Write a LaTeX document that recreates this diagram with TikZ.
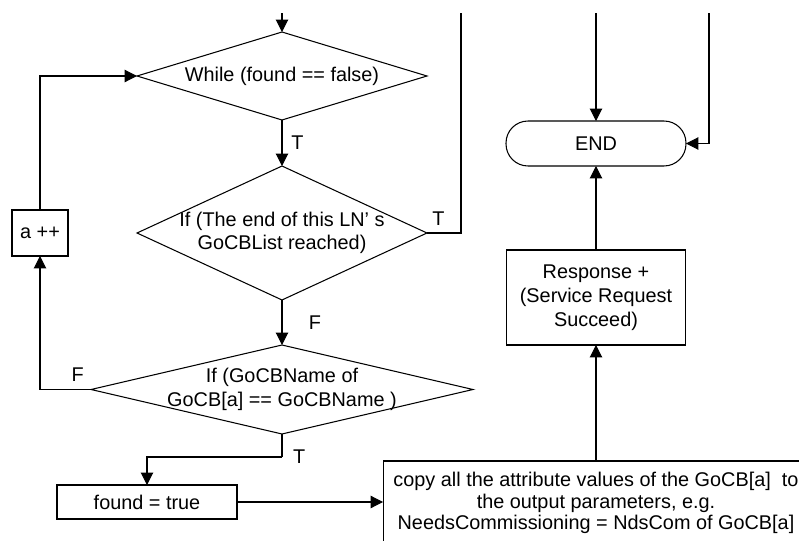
\documentclass[tikz,border=0pt]{standalone}
\usepackage{fontspec}
\setmainfont{Liberation Sans}
\usepackage{tikz}
\usetikzlibrary{arrows.meta, shapes.geometric}

\begin{document}
\begin{tikzpicture}[x=0.02cm, y=-0.02cm, line width=0.6pt, font=\fontsize{11.3}{13.3}\selectfont,
  dec/.style={diamond, draw, inner sep=0pt, outer sep=0pt},
  proc/.style={rectangle, draw, inner sep=0pt, outer sep=0pt, align=center},
  term/.style={rectangle, draw, rounded corners=0.44cm, inner sep=0pt, outer sep=0pt},
  flow/.style={-{Triangle[length=0.25cm, width=0.25cm]}},
  lbl/.style={inner sep=0pt}]
  \useasboundingbox (0,0) rectangle (799,541);
  \clip (0,0) rectangle (799,541);

  % decisions
  \node[dec, minimum width=5.8cm, minimum height=1.76cm,
        label={center:While (found == false)}] (while) at (282,76) {};
  \node[dec, minimum width=5.8cm, minimum height=2.68cm,
        label={[align=center]center:{If (The end of this LN' s\\GoCBList reached)}}] (endlist) at (282,233) {};
  \node[dec, minimum width=7.64cm, minimum height=1.78cm,
        label={[align=center]center:{If (GoCBName of\\GoCB[a] == GoCBName )}}] (match) at (282,389.5) {};

  % boxes
  \node[proc, minimum width=1.12cm, minimum height=0.92cm] (inc) at (40,233) {a ++};
  \node[proc, minimum width=3.6cm, minimum height=0.68cm] (found) at (147,502) {found = true};
  \node[proc, minimum width=8.52cm, minimum height=1.68cm, font=\fontsize{11.3}{12.2}\selectfont] (copy) at (596,503)
    {copy all the attribute values of the GoCB[a]\ \ to\\the output parameters, e.g.\\NeedsCommissioning = NdsCom of GoCB[a]};
  \node[proc, minimum width=3.58cm, minimum height=1.9cm, font=\fontsize{11.3}{13.8}\selectfont] (resp) at (596,297.5)
    {Response +\\(Service Request\\Succeed)};
  \node[term, minimum width=3.6cm, minimum height=0.9cm] (end) at (596,143.5) {END};

  % loose ends at the top
  \coordinate (inA) at (282,13);
  \coordinate (inB) at (461,13);
  \coordinate (inC) at (596,13);
  \coordinate (inD) at (709,13);
  \coordinate (tjoin) at (282,457);

  \draw[flow] (inA) -- (while.north);
  \draw[flow] (while.south) -- node[lbl, anchor=west, xshift=5pt] (lblT1) {T} (endlist.north);
  \draw (endlist.east) -| node[lbl, pos=0.17, anchor=south, yshift=4pt] (lblT2) {T} (inB);
  \draw[flow] (endlist.south) -- node[lbl, anchor=west, xshift=15pt] (lblF1) {F} (match.north);
  \draw[flow] (match.west) -| node[lbl, pos=0.13, anchor=south, yshift=4pt] (lblF2) {F} (inc.south);
  \draw[flow] (inc.north) |- (while.west);
  \draw (match.south) -- (tjoin);
  \node[lbl, anchor=west, xshift=6pt] (lblT3) at (tjoin) {T};
  \draw[flow] (tjoin) -| (found.north);
  \draw[flow] (found.east) -- (found.east -| copy.west);
  \draw[flow] (copy.north) -- (resp.south);
  \draw[flow] (resp.north) -- (end.south);
  \draw[flow] (inC) -- (end.north);
  \draw[flow] (inD) |- (end.east);
\end{tikzpicture}
\end{document}
